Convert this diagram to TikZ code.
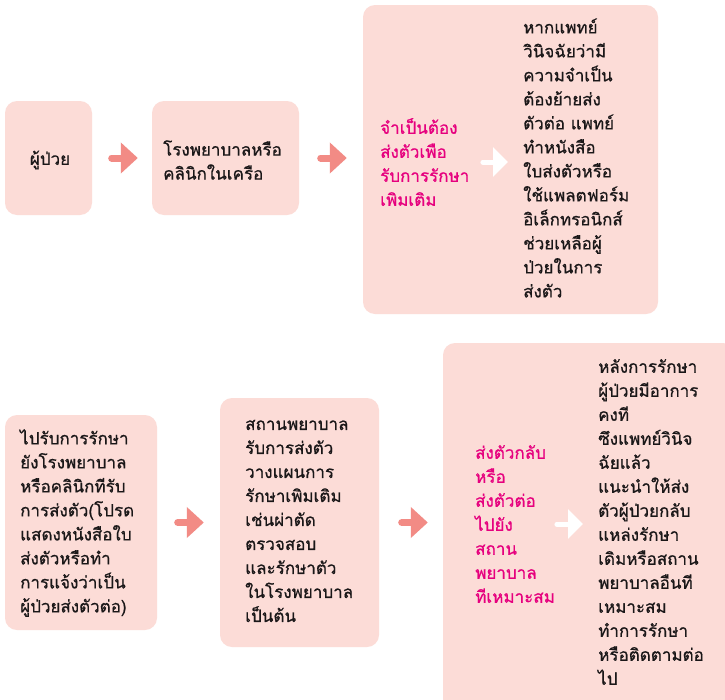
\documentclass[tikz,border=0pt]{standalone}
\usepackage{fontspec}
\newfontfamily\thaifont[Script=Thai, FakeBold=0.8]{Loma}
\usetikzlibrary{arrows.meta}
\definecolor{boxpink}{HTML}{FCDCD7}
\definecolor{arrowred}{HTML}{F28B85}
\definecolor{flowpink}{HTML}{E6007E}
\definecolor{flowtext}{HTML}{1A1718}
\tikzset{
	flowbox/.style	= {rectangle, rounded corners=12pt, fill=boxpink, inner sep=0pt},
	flowtxt/.style	= {anchor=west, align=left, inner sep=0pt, text=flowtext, font=\thaifont\fontsize{17}{24}\selectfont},
	hottxt/.style	= {flowtxt, text=flowpink},
	nextarrow/.style	= {draw=arrowred, line width=7pt, line cap=round, -{Triangle[length=17pt, width=30pt]}},
	innerarrow/.style	= {draw=white, line width=5pt, line cap=round, -{Triangle[length=15pt, width=29pt]}}
}
\begin{document}
\begin{tikzpicture}[x=1pt, y=-1pt]
	\clip (0,0) rectangle (725,699);
	\fill[white] (0,0) rectangle (725,699);
	% upper row
	\node (B1) at ( 48.5, 158.0)	[flowbox, minimum width=87pt, minimum height=114pt]	{};
	\node (B2) at (225.5, 158.0)	[flowbox, minimum width=147pt, minimum height=114pt]	{};
	\node (B3) at (510.5, 159.5)	[flowbox, minimum width=295pt, minimum height=309pt]	{};
	\node (T1) at ( 50, 160)	[flowtxt, anchor=center]	{ผู้ป่วย};
	\node (T2) at (163, 160)	[flowtxt]	{โรงพยาบาลหรือ\\คลินิกในเครือ};
	\node (M3) at (380, 162)	[hottxt, text width=86pt]	{จำเป็นต้อง\\ส่งตัวเพือ\\รับการรักษา\\เพิมเติม};
	\node (D3) at (523, 158)	[flowtxt]	{หากแพทย์\\วินิจฉัยว่ามี\\ความจำเป็น\\ต้องย้ายส่ง\\ตัวต่อ แพทย์\\ทำหนังสือ\\ใบส่งตัวหรือ\\ใช้แพลตฟอร์ม\\อิเล็กทรอนิกส์\\ช่วยเหลือผู้\\ป่วยในการ\\ส่งตัว};
	% lower row
	\node (B4) at ( 81.0, 522.5)	[flowbox, minimum width=152pt, minimum height=215pt]	{};
	\node (B5) at (299.5, 522.5)	[flowbox, minimum width=159pt, minimum height=249pt]	{};
	\node (B6) at (589.0, 529.0)	[flowbox, minimum width=292pt, minimum height=372pt]	{};
	\node (T4) at ( 20, 523)	[flowtxt]	{ไปรับการรักษา\\ยังโรงพยาบาล\\หรือคลินิกทีรับ\\การส่งตัว(โปรด\\แสดงหนังสือใบ\\ส่งตัวหรือทำ\\การแจ้งว่าเป็น\\ผู้ป่วยส่งตัวต่อ)};
	\node (T5) at (245, 521)	[flowtxt]	{สถานพยาบาล\\รับการส่งตัว\\วางแผนการ\\รักษาเพิมเติม\\เช่นผ่าตัด\\ตรวจสอบ\\และรักษาตัว\\ในโรงพยาบาล\\เป็นต้น};
	\node (M6) at (475, 524)	[hottxt, text width=78pt]	{ส่งตัวกลับ\\หรือ\\ส่งตัวต่อ\\ไปยัง\\สถาน\\พยาบาล\\ทีเหมาะสม};
	\node (D6) at (598, 522)	[flowtxt]	{หลังการรักษา\\ผู้ป่วยมีอาการ\\คงที\\ซึงแพทย์วินิจ\\ฉัยแล้ว\\แนะนำให้ส่ง\\ตัวผู้ป่วยกลับ\\แหล่งรักษา\\เดิมหรือสถาน\\พยาบาลอืนที\\เหมาะสม\\ทำการรักษา\\หรือติดตามต่อ\\ไป};
	% arrows
	\draw[nextarrow, shorten <=19.5pt, shorten >=14pt]	(B1.east) -- (B2.west);
	\draw[nextarrow, shorten <=21.5pt, shorten >=16pt]	(B2.east) -- (B2.east -| B3.west);
	\draw[nextarrow, shorten <=20.5pt, shorten >=16pt]	(B4.east) -- (B4.east -| B5.west);
	\draw[nextarrow, shorten <=22.5pt, shorten >=15pt]	(B5.east) -- (B5.east -| B6.west);
	\draw[innerarrow, shorten <=16.5pt, shorten >=15pt]	(M3.east) -- (M3.east -| D3.west);
	\draw[innerarrow, shorten <=3.5pt, shorten >=15pt]	(M6.east) -- (M6.east -| D6.west);
\end{tikzpicture}
\end{document}
